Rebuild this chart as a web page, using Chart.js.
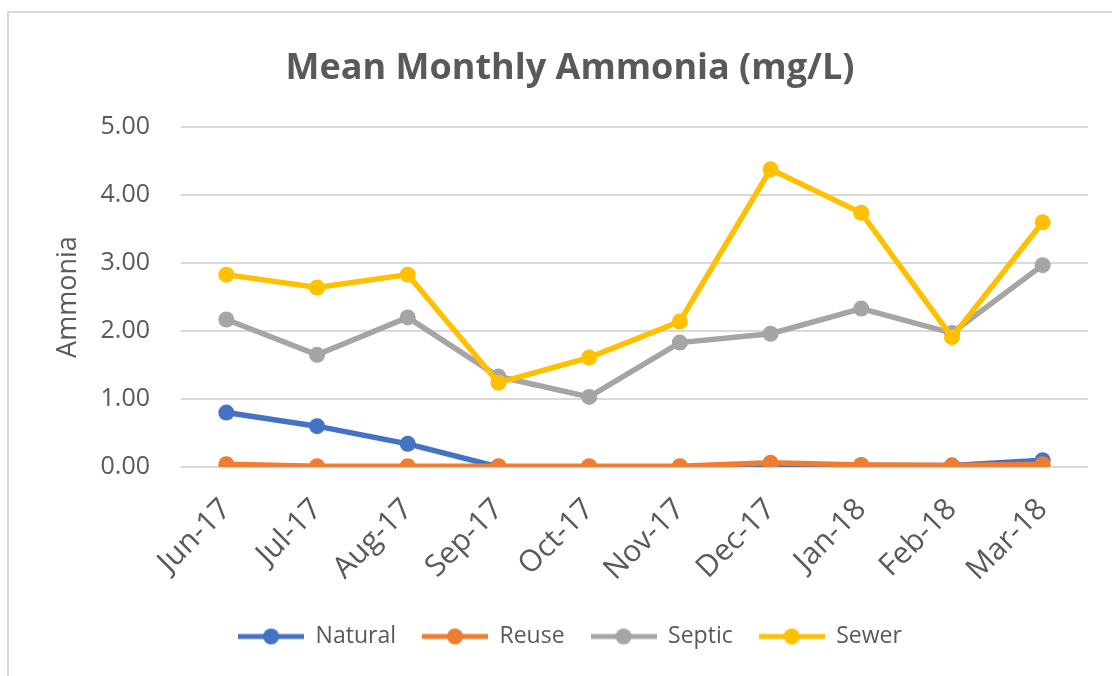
<!DOCTYPE html>
<html>
<head>
<meta charset="utf-8">
<script src="https://cdn.jsdelivr.net/npm/chart.js@4"></script>
<style>
  html, body { margin: 0; padding: 0; background: #fff; }
  #wrap { position: absolute; left: 0; top: 0; width: 1112px; height: 676px; }
  #frame { position: absolute; left: 7px; top: 11px; right: -10px; bottom: -10px;
           border-left: 2px solid #d9d9d9; border-top: 2px solid #d9d9d9; }
</style>
</head>
<body>
<div id="wrap">
  <div id="frame"></div>
  <canvas id="ammoniaChart" width="1112" height="676" style="position:absolute;left:0;top:0;"></canvas>
</div>
<script>
/* ---- data ---- */
const months  = ['Jun-17','Jul-17','Aug-17','Sep-17','Oct-17','Nov-17','Dec-17','Jan-18','Feb-18','Mar-18'];
const natural = [0.80, 0.60, 0.34, 0.00, 0.00, 0.00, 0.01, 0.02, 0.02, 0.10];
const reuse   = [0.04, 0.01, 0.01, 0.01, 0.01, 0.01, 0.06, 0.03, 0.02, 0.04];
const septic  = [2.17, 1.65, 2.20, 1.33, 1.03, 1.83, 1.96, 2.33, 1.97, 2.97];
const sewer   = [2.83, 2.64, 2.83, 1.24, 1.61, 2.14, 4.38, 3.74, 1.91, 3.60];
const yTicks  = [0, 1, 2, 3, 4, 5];

const TEXT = '#595959';
const FONT = "'Open Sans', 'Liberation Sans', sans-serif";

/** legend swatch: line with a dot in the middle, like Excel */
function swatch(color) {
  const c = document.createElement('canvas');
  c.width = 66; c.height = 18;
  const g = c.getContext('2d');
  g.strokeStyle = color; g.lineWidth = 5; g.lineCap = 'butt';
  g.beginPath(); g.moveTo(0, 9); g.lineTo(66, 9); g.stroke();
  g.fillStyle = color;
  g.beginPath(); g.arc(33, 9, 8, 0, Math.PI * 2); g.fill();
  return c;
}

function series(label, data, color, order) {
  return {
    label, data, order,
    borderColor: color,
    backgroundColor: color,
    borderWidth: 5.5,
    pointRadius: 8,
    pointHoverRadius: 8,
    pointBorderWidth: 0,
    tension: 0
  };
}

new Chart(document.getElementById('ammoniaChart'), {
  type: 'line',
  data: {
    labels: months,
    datasets: [
      series('Natural', natural, '#4472C4', 3),
      series('Reuse',   reuse,   '#ED7D31', 2),
      series('Septic',  septic,  '#A5A5A5', 1),
      series('Sewer',   sewer,   '#FFC000', 0)
    ]
  },
  options: {
    responsive: false,
    animation: false,
    layout: { padding: { left: 52, right: 24, top: 47, bottom: 18 } },
    plugins: {
      tooltip: { enabled: false },
      title: {
        display: true,
        text: 'Mean Monthly Ammonia (mg/L)',
        color: TEXT,
        font: { family: FONT, size: 36, weight: 'bold' },
        padding: { top: 0, bottom: 37 }
      },
      legend: {
        position: 'bottom',
        labels: {
          color: TEXT,
          font: { family: FONT, size: 23 },
          usePointStyle: true,
          pointStyleWidth: 66,
          boxHeight: 18,
          padding: 26,
          generateLabels: chart => chart.data.datasets.map((ds, i) => ({
            text: ds.label,
            fillStyle: ds.borderColor,
            strokeStyle: ds.borderColor,
            fontColor: TEXT,
            pointStyle: swatch(ds.borderColor),
            datasetIndex: i,
            hidden: false
          }))
        }
      }
    },
    scales: {
      x: {
        offset: true,
        grid: { display: false },
        border: { display: false },
        // let rotated labels hang under the y labels, as in the original
        afterFit: axis => { axis.height -= 6; axis.paddingLeft = 0; axis.paddingRight = 0; },
        ticks: {
          color: TEXT,
          font: { family: FONT, size: 30 },
          minRotation: 45, maxRotation: 45,
          padding: 17
        }
      },
      y: {
        min: 0, max: 5,
        afterBuildTicks: axis => { axis.ticks = yTicks.map(v => ({ value: v })); },
        afterFit: axis => { axis.width = 129; },
        grid: { color: '#D9D9D9', lineWidth: 2, drawTicks: false },
        border: { display: false },
        ticks: {
          color: TEXT,
          font: { family: FONT, size: 25 },
          padding: 31,
          callback: v => Number(v).toFixed(2)
        },
        title: {
          display: true,
          text: 'Ammonia',
          color: TEXT,
          font: { family: FONT, size: 27 },
          padding: { top: 0, bottom: 14 }
        }
      }
    }
  }
});
</script>
</body>
</html>
